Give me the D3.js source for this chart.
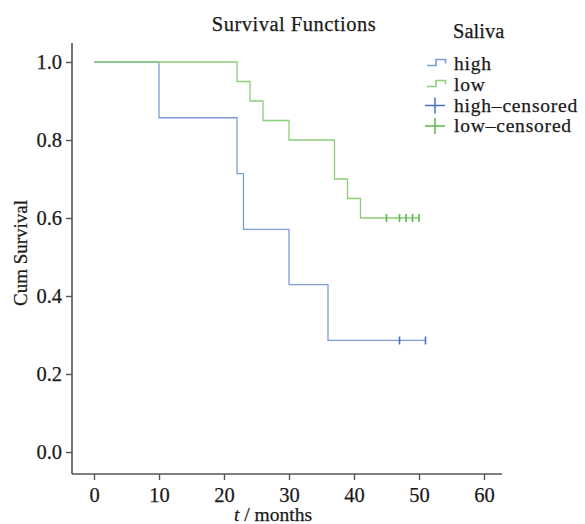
<!DOCTYPE html>
<html>
<head>
<meta charset="utf-8">
<script src="https://cdn.jsdelivr.net/npm/d3@7"></script>
<style>
  body { margin: 0; background: #fff; }
  text { font-family: "Liberation Serif", "DejaVu Serif", serif; fill: #1a1a1a; stroke: #1a1a1a; stroke-width: 0.25px; }
</style>
</head>
<body>
<svg id="chart" width="585" height="524"></svg>
<script>
// step points (time, cumulative survival)
let highTimes = [0, 10, 22, 23, 30, 36, 51];
let highSurv  = [1.0, 0.857, 0.714, 0.571, 0.429, 0.286, 0.286];
let lowTimes  = [0, 22, 24, 26, 30, 37, 39, 41, 50];
let lowSurv   = [1.0, 0.95, 0.90, 0.85, 0.80, 0.70, 0.65, 0.60, 0.60];

// censored cases
let highCensTimes = [47, 51];
let highCensSurv  = [0.286, 0.286];
let lowCensTimes  = [45, 47, 48, 49, 50];
let lowCensSurv   = [0.60, 0.60, 0.60, 0.60, 0.60];

let xTicks = [0, 10, 20, 30, 40, 50, 60];
let yTicks = [0.0, 0.2, 0.4, 0.6, 0.8, 1.0];
let legendLabels = ["high", "low", "high\u2013censored", "low\u2013censored"];

let colors = {
    highLine: "#7f9bd6", lowLine: "#8ccf7a",
    highMark: "#4a6fc4", lowMark: "#5ab946"
};

let svg = d3.select("#chart");

let x = d3.scaleLinear().domain([0, 60]).range([94, 484]);
let y = d3.scaleLinear().domain([0, 1]).range([452, 62]);

// axis frame lines
let left = 72, bottom = 474;
svg.append("line")
    .attr("x1", left).attr("x2", left).attr("y1", 43).attr("y2", bottom)
    .attr("stroke", "#555").attr("stroke-width", 1.6);
svg.append("line")
    .attr("x1", left).attr("x2", 502).attr("y1", bottom).attr("y2", bottom)
    .attr("stroke", "#555").attr("stroke-width", 1.6);

let xAxis = svg.append("g")
    .attr("transform", `translate(0, ${bottom})`)
    .call(d3.axisBottom(x).tickValues(xTicks).tickSize(6).tickPadding(7));
let yAxis = svg.append("g")
    .attr("transform", `translate(${left}, 0)`)
    .call(d3.axisLeft(y).tickValues(yTicks).tickSize(6).tickPadding(4).tickFormat(d3.format(".1f")));

[xAxis, yAxis].forEach(g => {
    g.select(".domain").remove();
    g.selectAll(".tick line").attr("stroke", "#555").attr("stroke-width", 1.4);
    g.selectAll(".tick text")
        .style("font-family", "Liberation Serif, serif")
        .style("font-size", "20.5px")
        .attr("fill", "#1a1a1a");
});

// survival curves
let line = d3.line()
    .x(d => x(d[0]))
    .y(d => y(d[1]))
    .curve(d3.curveStepAfter);

svg.append("path")
    .datum(d3.zip(highTimes, highSurv))
    .attr("d", line)
    .attr("fill", "none")
    .attr("stroke", colors.highLine)
    .attr("stroke-width", 1.3);

svg.append("path")
    .datum(d3.zip(lowTimes, lowSurv))
    .attr("d", line)
    .attr("fill", "none")
    .attr("stroke", colors.lowLine)
    .attr("stroke-width", 1.3);

// censor marks
function drawCens(times, surv, col) {
    svg.append("g").selectAll("line")
        .data(d3.zip(times, surv))
        .enter()
        .append("line")
        .attr("x1", d => x(d[0])).attr("x2", d => x(d[0]))
        .attr("y1", d => y(d[1]) - 4).attr("y2", d => y(d[1]) + 4)
        .attr("stroke", col)
        .attr("stroke-width", 1.6);
}
drawCens(highCensTimes, highCensSurv, colors.highMark);
drawCens(lowCensTimes, lowCensSurv, colors.lowMark);

// title and axis labels
svg.append("text")
    .attr("x", 294).attr("y", 30.5)
    .attr("text-anchor", "middle")
    .style("font-size", "20.5px")
    .style("letter-spacing", "0.5px")
    .text("Survival Functions");

svg.append("text")
    .attr("transform", "translate(27, 253) rotate(-90)")
    .attr("text-anchor", "middle")
    .style("font-size", "19px")
    .text("Cum Survival");

let xl = svg.append("text")
    .attr("x", 273).attr("y", 521)
    .attr("text-anchor", "middle")
    .style("font-size", "19.5px");
xl.append("tspan").style("font-style", "italic").text("t");
xl.append("tspan").text(" / months");

// legend
svg.append("text")
    .attr("x", 453).attr("y", 37.5)
    .style("font-size", "20.5px")
    .text("Saliva");

let legendY = [70, 91, 111.5, 132];
let legendCols = [colors.highLine, colors.lowLine, colors.highMark, colors.lowMark];

let lg = svg.append("g").selectAll("g")
    .data(legendLabels)
    .enter()
    .append("g")
    .attr("transform", (d, i) => `translate(0, ${legendY[i]})`);

lg.append("text")
    .attr("x", 454).attr("y", 0)
    .style("font-size", "19.5px")
    .style("letter-spacing", "0.8px")
    .text(d => d);

lg.filter((d, i) => i < 2)
    .append("path")
    .attr("d", "M427,-4.5H436V-10.5H445.5V-6.5")
    .attr("fill", "none")
    .attr("stroke", (d, i) => legendCols[i])
    .attr("stroke-width", 1.6);

lg.filter((d, i) => i >= 2)
    .each(function(d, i) {
        let g = d3.select(this);
        let c = legendCols[i + 2];
        g.append("line").attr("x1", 425).attr("x2", 445).attr("y1", -6).attr("y2", -6)
            .attr("stroke", c).attr("stroke-width", 1.5);
        g.append("line").attr("x1", 435).attr("x2", 435).attr("y1", -14).attr("y2", 2)
            .attr("stroke", c).attr("stroke-width", 1.5);
    });
</script>
</body>
</html>
